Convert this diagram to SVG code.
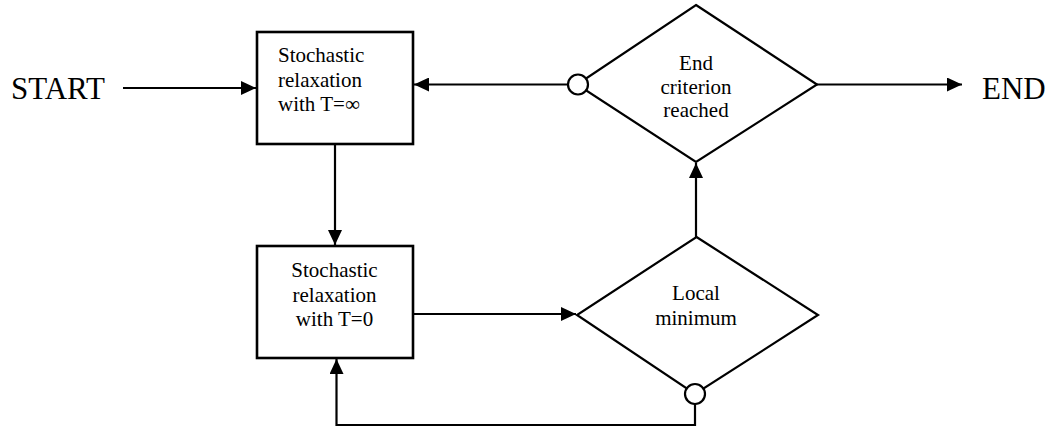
<svg xmlns="http://www.w3.org/2000/svg" width="1050" height="428" viewBox="0 0 1050 428">
<defs>
<marker id="arr" markerUnits="userSpaceOnUse" markerWidth="16" markerHeight="14" refX="15" refY="7" orient="auto">
<path d="M0,0 L15,7 L0,14 z" fill="#000"/>
</marker>
<style>
.box{fill:#fff;stroke:#000;stroke-width:2.6}
.dia{fill:#fff;stroke:#000;stroke-width:2.2}
.ln{fill:none;stroke:#000;stroke-width:2.2}
.circ{fill:#fff;stroke:#000;stroke-width:2.2}
.t{font-family:"Liberation Serif","Times New Roman",serif;font-size:21px;fill:#000}
.big{font-family:"Liberation Serif","Times New Roman",serif;font-size:31px;fill:#000}
.c{text-anchor:middle}
</style>
</defs>
<rect width="1050" height="428" fill="#fff"/>
<g id="connectors">
<line class="ln" x1="123" y1="88" x2="256" y2="88" marker-end="url(#arr)"/>
<line class="ln" x1="568" y1="84.5" x2="414" y2="84.5" marker-end="url(#arr)"/>
<line class="ln" x1="817" y1="84.5" x2="962" y2="84.5" marker-end="url(#arr)"/>
<line class="ln" x1="335" y1="144" x2="335" y2="245" marker-end="url(#arr)"/>
<line class="ln" x1="413" y1="314" x2="576" y2="314" marker-end="url(#arr)"/>
<line class="ln" x1="696" y1="237" x2="696" y2="163" marker-end="url(#arr)"/>
<polyline class="ln" points="695,404 695,425 336.5,425 336.5,359" marker-end="url(#arr)"/>
</g>
<g id="start"><text class="big" x="11" y="99">START</text></g>
<g id="end"><text class="big" x="982" y="99">END</text></g>
<g id="relax_inf">
<rect class="box" x="257" y="32" width="156" height="112"/>
<text class="t" x="278" y="62">Stochastic</text>
<text class="t" x="278" y="87">relaxation</text>
<text class="t" x="278" y="111">with T=∞</text>
</g>
<g id="relax_zero">
<rect class="box" x="257" y="246" width="156" height="112"/>
<text class="t c" x="334.5" y="277">Stochastic</text>
<text class="t c" x="334.5" y="301.5">relaxation</text>
<text class="t c" x="334.5" y="326">with T=0</text>
</g>
<g id="end_criterion">
<polygon class="dia" points="696,5 817,84.5 696,162 577,84.5"/>
<circle class="circ" cx="578" cy="84.5" r="10"/>
<text class="t c" x="696" y="70">End</text>
<text class="t c" x="696" y="94">criterion</text>
<text class="t c" x="696" y="117">reached</text>
</g>
<g id="local_min">
<polygon class="dia" points="696.5,237 818,315 695,394 577,315"/>
<circle class="circ" cx="695" cy="394" r="10"/>
<text class="t c" x="696" y="300">Local</text>
<text class="t c" x="696" y="325">minimum</text>
</g>
</svg>
